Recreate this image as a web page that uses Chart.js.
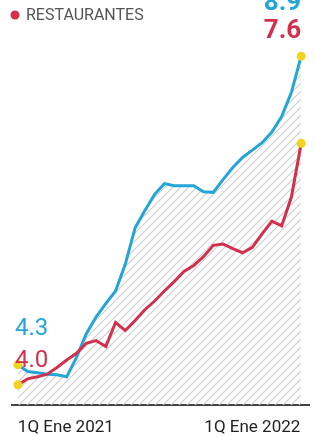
<!DOCTYPE html>
<html>
<head>
<meta charset="utf-8">
<script src="https://cdn.jsdelivr.net/npm/chart.js@4.4.1/dist/chart.umd.min.js"></script>
<style>
  html, body { margin: 0; padding: 0; background: #fff; }
  #wrap { width: 314px; height: 436px; position: relative; }
</style>
</head>
<body>
<div id="wrap"><canvas id="chart"></canvas></div>
<script>
// quincenas, 1Q Ene 2021 .. 2Q Mar 2022
const categories = [
  '1Q Ene 2021', '2Q Ene 2021', '1Q Feb 2021', '2Q Feb 2021', '1Q Mar 2021', '2Q Mar 2021',
  '1Q Abr 2021', '2Q Abr 2021', '1Q May 2021', '2Q May 2021', '1Q Jun 2021', '2Q Jun 2021',
  '1Q Jul 2021', '2Q Jul 2021', '1Q Ago 2021', '2Q Ago 2021', '1Q Sep 2021', '2Q Sep 2021',
  '1Q Oct 2021', '2Q Oct 2021', '1Q Nov 2021', '2Q Nov 2021', '1Q Dic 2021', '2Q Dic 2021',
  '1Q Ene 2022', '2Q Ene 2022', '1Q Feb 2022', '2Q Feb 2022', '1Q Mar 2022', '2Q Mar 2022'
];
const tickLabels = ['1Q Ene 2021', '1Q Ene 2022'];

const serieAzul = [4.3, 4.20, 4.18, 4.16, 4.15, 4.12, 4.41, 4.76, 5.01, 5.21,
  5.40, 5.80, 6.34, 6.60, 6.84, 7.00, 6.97, 6.97, 6.97, 6.88,
  6.87, 7.06, 7.24, 7.39, 7.50, 7.61, 7.77, 8.00, 8.36, 8.9];
const restaurantes = [4.0, 4.09, 4.12, 4.16, 4.26, 4.37, 4.47, 4.62, 4.66, 4.57,
  4.93, 4.81, 4.96, 5.12, 5.25, 5.40, 5.54, 5.69, 5.78, 5.91,
  6.08, 6.10, 6.03, 5.97, 6.05, 6.25, 6.44, 6.37, 6.80, 7.6];

const blue = '#23a5d8';
const red = '#d2304c';
const dotYellow = '#f2d41e';

// rayado diagonal bajo la linea azul
function hatch() {
  const c = document.createElement('canvas');
  c.width = 8; c.height = 8;
  const g = c.getContext('2d');
  g.strokeStyle = '#cdcdcd';
  g.lineWidth = 1.1;
  g.beginPath();
  g.moveTo(0, 8); g.lineTo(8, 0);
  g.moveTo(-1, 1); g.lineTo(1, -1);
  g.moveTo(7, 9); g.lineTo(9, 7);
  g.stroke();
  return g.createPattern(c, 'repeat');
}

const toPoints = arr => arr.map((v, i) => ({ x: i, y: v }));
const endDots = ctx => (ctx.dataIndex === 0 || ctx.dataIndex === categories.length - 1) ? 4.5 : 0;

const textPlugin = {
  id: 'texts',
  afterDatasetsDraw(chart) {
    const { ctx } = chart;
    const xs = chart.scales.x, ys = chart.scales.y;
    const last = categories.length - 1;
    ctx.save();
    // leyenda
    ctx.fillStyle = red;
    ctx.beginPath();
    ctx.arc(15, 15, 4.5, 0, Math.PI * 2);
    ctx.fill();
    ctx.font = '16px Roboto';
    ctx.fillStyle = '#555';
    ctx.textAlign = 'left';
    ctx.textBaseline = 'middle';
    ctx.fillText('RESTAURANTES', 26, 16);

    // valores iniciales
    ctx.textBaseline = 'alphabetic';
    ctx.font = '24px Roboto';
    ctx.fillStyle = blue;
    ctx.fillText(serieAzul[0].toFixed(1), 15, ys.getPixelForValue(serieAzul[0]) - 30);
    ctx.fillStyle = red;
    ctx.fillText(restaurantes[0].toFixed(1), 15, ys.getPixelForValue(restaurantes[0]) - 18);

    // valores finales
    ctx.textAlign = 'right';
    ctx.font = 'bold 26px Roboto';
    const xr = xs.getPixelForValue(last);
    ctx.fillStyle = blue;
    ctx.fillText(serieAzul[last].toFixed(1), xr, 10);
    ctx.fillStyle = red;
    ctx.fillText(restaurantes[last].toFixed(1), xr, 38);
    ctx.restore();
  }
};

const tickIdx = tickLabels.map(t => categories.indexOf(t));

new Chart(document.getElementById('chart'), {
  type: 'line',
  data: {
    datasets: [
      {
        label: 'RESTAURANTES',
        data: toPoints(restaurantes),
        borderColor: red,
        borderWidth: 3,
        fill: false,
        pointRadius: endDots,
        pointBackgroundColor: dotYellow,
        pointBorderWidth: 0,
        tension: 0
      },
      {
        label: '',
        data: toPoints(serieAzul),
        borderColor: blue,
        borderWidth: 3,
        fill: 'start',
        backgroundColor: hatch(),
        pointRadius: endDots,
        pointBackgroundColor: dotYellow,
        pointBorderWidth: 0,
        tension: 0
      }
    ]
  },
  options: {
    responsive: true,
    maintainAspectRatio: false,
    animation: false,
    layout: { padding: { left: 12, top: 0, right: 0, bottom: 0 } },
    plugins: {
      legend: { display: false },
      tooltip: { enabled: false }
    },
    scales: {
      x: {
        type: 'linear',
        min: -0.6,
        max: 29.8,
        grid: { display: false },
        border: { display: true, color: '#444', width: 2 },
        afterBuildTicks: s => {
          s.ticks = tickIdx.map(v => ({ value: v })).concat([{ value: 29.8 }]);
        },
        afterFit: s => { s.height = 31; },
        ticks: {
          autoSkip: false,
          maxRotation: 0,
          align: 'inner',
          padding: 5,
          color: '#222',
          font: { family: 'Roboto', size: 17 },
          callback: v => categories[v] ?? ''
        }
      },
      y: {
        display: false,
        min: 3.7,
        max: 9.67
      }
    }
  },
  plugins: [textPlugin]
});
</script>
</body>
</html>
